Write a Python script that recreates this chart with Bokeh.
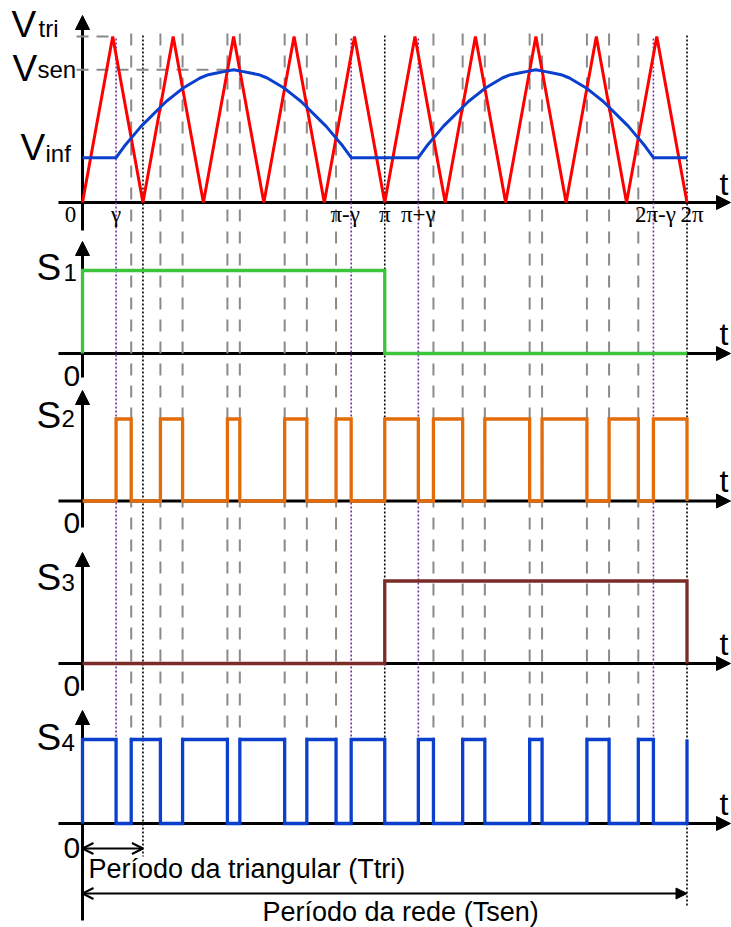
from bokeh.plotting import figure
from bokeh.models import Range1d, Arrow, NormalHead, OpenHead
from bokeh.core.properties import value
from bokeh.embed import file_html
from bokeh.resources import INLINE

# ---------------- data (angle in degrees: 180 = pi, 360 = 2pi) ----------------
tri_t = [0, 18, 36, 54, 72, 90, 108, 126, 144, 162, 180,
         198, 216, 234, 252, 270, 288, 306, 324, 342, 360]
tri_v = [0, 1, 0, 1, 0, 1, 0, 1, 0, 1, 0,
         1, 0, 1, 0, 1, 0, 1, 0, 1, 0]

sen_t = [0, 20, 25, 30, 35, 40, 45, 50, 55, 60, 65, 70, 75, 80, 85, 90,
         95, 100, 105, 110, 115, 120, 125, 130, 135, 140, 145, 150, 155, 160,
         180, 200, 205, 210, 215, 220, 225, 230, 235, 240, 245, 250, 255, 260,
         265, 270, 275, 280, 285, 290, 295, 300, 305, 310, 315, 320, 325, 330,
         335, 340, 360]
sen_v = [0.27, 0.27, 0.34, 0.40, 0.46, 0.51, 0.56, 0.61, 0.65, 0.69, 0.72, 0.75,
         0.77, 0.78, 0.79, 0.80, 0.79, 0.78, 0.77, 0.75, 0.72, 0.69, 0.65, 0.61,
         0.56, 0.51, 0.46, 0.40, 0.34, 0.27,
         0.27, 0.27, 0.34, 0.40, 0.46, 0.51, 0.56, 0.61, 0.65, 0.69, 0.72, 0.75,
         0.77, 0.78, 0.79, 0.80, 0.79, 0.78, 0.77, 0.75, 0.72, 0.69, 0.65, 0.61,
         0.56, 0.51, 0.46, 0.40, 0.34, 0.27, 0.27]

cross_t = [29, 46.4, 59.6, 86.3, 93.7, 120.4, 133.6, 151,
           209, 226.4, 239.6, 266.3, 273.7, 300.4, 313.6, 331]
gamma_t = [20, 160, 200, 340]
period_t = [36, 180, 360]

tick_t = [0, 20, 160, 180, 200, 340, 360]
tick_lbl = ["0", "γ", "π-γ", "π", "π+γ", "2π-γ", "2π"]

s1_edges = [0, 180]
s2_edges = [20, 29, 46.4, 59.6, 86.3, 93.7, 120.4, 133.6, 151, 160, 180,
            200, 209, 226.4, 239.6, 266.3, 273.7, 300.4, 313.6, 331, 340, 360]
s3_edges = [180, 360]
s4_edges = [0, 20, 29, 46.4, 59.6, 86.3, 93.7, 120.4, 133.6, 151, 160, 180,
            200, 209, 226.4, 239.6, 266.3, 273.7, 300.4, 313.6, 331, 340, 360]

y_main = ["V", "V", "V", "S", "S", "S", "S"]
y_sub = ["tri", "sen", "inf", "1", "2", "3", "4"]
text_ttri = "Período da triangular (Ttri)"
text_tsen = "Período da rede (Tsen)"

# ---------------- layout ----------------
W, H = 731, 927
X0_PX, X2PI_PX = 82, 686.5
k = (X2PI_PX - X0_PX) / 360.0
# panel: (baseline px, px per unit)
panels = {"top": (202, 166), "s1": (353, 83), "s2": (500.5, 82),
          "s3": (663, 82.5), "s4": (823, 84)}
yaxis_px = {"top": (230, 15), "s1": (377, 241), "s2": (527, 390),
            "s3": (690, 552), "s4": (920, 710)}
DY = -10    # baseline correction for the svg text renderer
DYS = -8

p = figure(width=W, height=H, output_backend="svg", toolbar_location=None,
           x_range=Range1d(-X0_PX / k, (W - X0_PX) / k),
           y_range=Range1d(H, 0), x_axis_type=None, y_axis_type=None,
           min_border=0, outline_line_color=None)
p.background_fill_color = "white"
p.border_fill_color = "white"
p.extra_x_ranges = {"px": Range1d(0, W)}
p.extra_y_ranges = {n: Range1d(-(H - b) / u, b / u) for n, (b, u) in panels.items()}

GRAY = "#8a8a8a"
PURPLE = "#7030a0"

# ---------------- guide lines ----------------
p.segment(x0=cross_t, y0=33, x1=cross_t, y1=739, line_color=GRAY,
          line_width=2, line_dash="12 10")
p.segment(x0=gamma_t, y0=38, x1=gamma_t, y1=739, line_color=PURPLE,
          line_width=1.6, line_dash="2 2")
p.segment(x0=period_t, y0=35, x1=period_t, y1=[856, 739, 907],
          line_color="black", line_width=1.6, line_dash="2 2")

tri_peak_t = tri_t[tri_v.index(max(tri_v))]
sen_peak_t = sen_t[sen_v.index(max(sen_v))]
x_left = (76 - X0_PX) / k
p.segment(x0=[x_left, x_left], y0=[max(tri_v), max(sen_v)],
          x1=[tri_peak_t, sen_peak_t], y1=[max(tri_v), max(sen_v)],
          y_range_name="top", line_color=GRAY, line_width=2, line_dash="12 8")

# ---------------- axes with arrows ----------------
for n, (b, u) in panels.items():
    p.add_layout(Arrow(x_start=58, x_end=730, y_start=0, y_end=0,
                       x_range_name="px", y_range_name=n, line_width=3,
                       line_color="black", level="underlay",
                       end=NormalHead(size=14, fill_color="black", line_color="black")))
    y0, y1 = yaxis_px[n]
    p.add_layout(Arrow(x_start=X0_PX, x_end=X0_PX, y_start=y0, y_end=y1,
                       x_range_name="px", line_width=3, line_color="black",
                       level="underlay",
                       end=NormalHead(size=14, fill_color="black", line_color="black")))

# ---------------- waveforms ----------------
p.line(tri_t, tri_v, y_range_name="top", line_color="#ff0000", line_width=3)
p.line(sen_t, sen_v, y_range_name="top", line_color="#0b3fce", line_width=3)


def steps(edges, start=0, t1=360):
    xs, ys, lvl = [0], [start], start
    for e in edges:
        xs += [e, e]
        ys += [lvl, 1 - lvl]
        lvl = 1 - lvl
    if xs[-1] < t1:
        xs.append(t1)
        ys.append(lvl)
    return xs, ys


for n, edges, col in [("s1", s1_edges, "#3cc43c"), ("s2", s2_edges, "#e36c0a"),
                      ("s3", s3_edges, "#7b2c28"), ("s4", s4_edges, "#0b3fce")]:
    xs, ys = steps(edges)
    p.line(xs, ys, y_range_name=n, line_color=col, line_width=3.3,
           line_join="miter")

# ---------------- texts ----------------
SANS = value("Liberation Sans")
SERIF = value("Liberation Serif")

p.text(x=[11, 12, 20, 36, 36, 36, 36], y=[34, 78, 157, 277, 425, 587, 747],
       y_offset=DY, text=y_main, x_range_name="px", text_font=SANS,
       text_font_size="37px", text_align="left", text_baseline="alphabetic",
       text_color="black")
p.text(x=[38, 37, 45, 63, 61, 61, 61], y=[38, 79, 163, 282, 428, 592, 752],
       y_offset=DY, text=y_sub, x_range_name="px", text_font=SANS,
       text_font_size="24px", text_align="left", text_baseline="alphabetic",
       text_color="black")

p.text(x=[63, 63, 63, 63], y=[385, 532, 695, 857], y_offset=DY,
       text=["0", "0", "0", "0"], x_range_name="px", text_font=SANS,
       text_font_size="30px", text_align="left", text_baseline="alphabetic",
       text_color="black")
p.text(x=[719] * 5, y=[193, 343, 490, 653, 813], y_offset=DY, text=["t"] * 5,
       x_range_name="px", text_font=SANS, text_font_size="32px",
       text_align="left", text_baseline="alphabetic", text_color="black")

p.text(x=tick_t, y=222, text=tick_lbl, x_offset=[-12, 0, -6, 0, 0, 2, 5],
       y_offset=DYS, text_font=SERIF, text_font_size="23px",
       text_align="center", text_baseline="alphabetic", text_color="black")

# period arrows
p.add_layout(Arrow(x_start=0, x_end=period_t[0], y_start=848, y_end=848,
                   line_width=2, line_color="black",
                   start=OpenHead(size=11, line_width=2, line_color="black"),
                   end=OpenHead(size=11, line_width=2, line_color="black")))
p.add_layout(Arrow(x_start=0, x_end=period_t[-1], y_start=893, y_end=893,
                   line_width=2, line_color="black",
                   start=OpenHead(size=11, line_width=2, line_color="black"),
                   end=NormalHead(size=11, fill_color="black", line_color="black")))
p.text(x=[88, 262], y=[878, 921], y_offset=DY, text=[text_ttri, text_tsen],
       x_range_name="px", text_font=SANS, text_font_size="27px",
       text_align="left", text_baseline="alphabetic", text_color="black")

open("out.html", "w").write(file_html(p, INLINE))
